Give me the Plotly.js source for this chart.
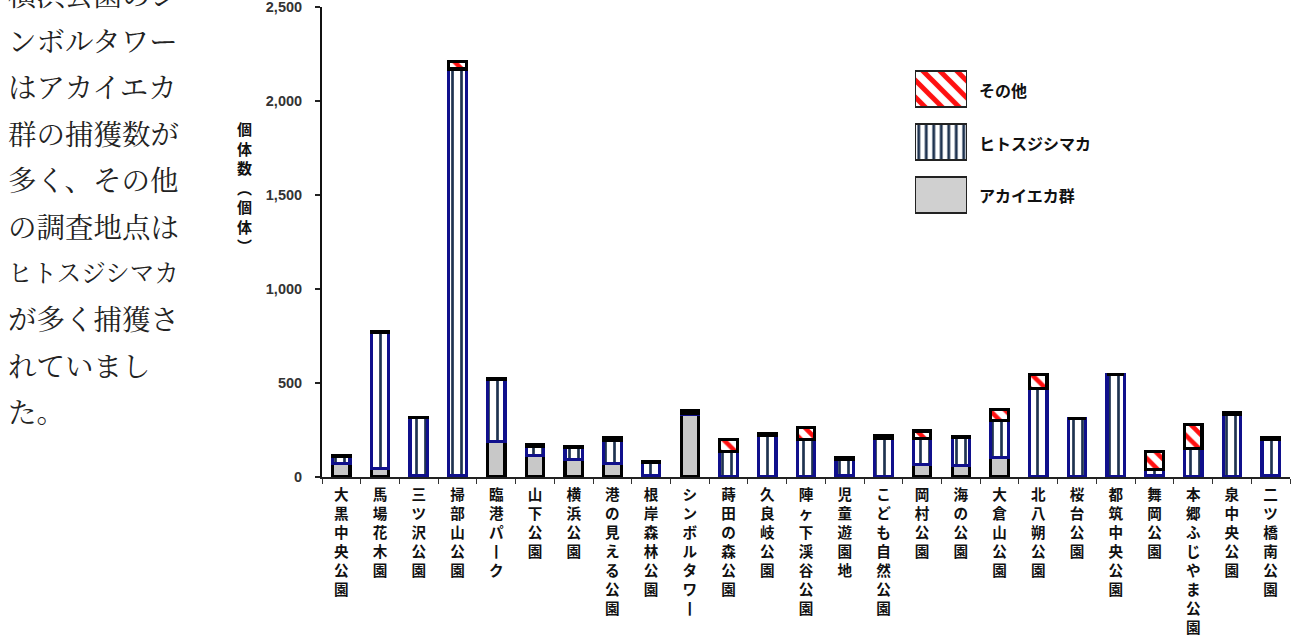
<!DOCTYPE html>
<html>
<head>
<meta charset="utf-8">
<script src="https://cdn.plot.ly/plotly-3.0.1.min.js"></script>
<style>
html,body{margin:0;padding:0;background:#fff;}
#chart{width:1297px;height:636px;}
</style>
</head>
<body>
<div id="chart"></div>
<script>
// ---- data ----
const sites = ["大黒中央公園","馬場花木園","三ツ沢公園","掃部山公園","臨港パーク","山下公園","横浜公園","港の見える公園","根岸森林公園","シンボルタワー","蒔田の森公園","久良岐公園","陣ヶ下渓谷公園","児童遊園地","こども自然公園","岡村公園","海の公園","大倉山公園","北八朔公園","桜台公園","都筑中央公園","舞岡公園","本郷ふじやま公園","泉中央公園","二ツ橋南公園"];
const akaieka = [70,45,10,10,190,115,95,70,5,335,0,0,0,5,0,65,60,105,0,0,0,5,0,0,10];
const hitosuji = [40,725,305,2160,330,50,65,125,72,5,135,220,200,90,205,140,150,195,470,312,545,35,150,335,190];
const sonota = [5,5,3,40,5,5,3,15,3,15,65,10,65,10,15,40,5,60,75,0,0,95,130,5,10];
const seriesNames = ["アカイエカ群","ヒトスジシマカ","その他"];
const yTicks = [0,500,1000,1500,2000,2500];
const yTitle = "個体数（個体）";
const sideText = ["横浜公園のシ","ンボルタワー","はアカイエカ","群の捕獲数が","多く、その他","の調査地点は","ヒトスジシマカ","が多く捕獲さ","れていまし","た。"];

// ---- layout helpers ----
const L = 322, R = 1290, T = 7, B = 477;
const W = R - L, H = B - T;
const px = x => (x - L) / W;
const py = y => (B - y) / H;

function vertical(s){
  return Array.from(s).map(c => c === "ー" ? "丨" : c).join("<br>");
}
const ticktext = sites.map(vertical);
const yTitleV = Array.from(yTitle).map(c => c === "（" ? "︵" : (c === "）" ? "︶" : c)).join("<br>");

const CJK = "Noto Sans CJK JP";
const blueLine = "#10108c";

const patOther = {shape:"\\", fgcolor:"#ff1010", bgcolor:"#ffffff", size:11, solidity:0.42};
const patHito = {shape:"|", fgcolor:"#1f3350", bgcolor:"#ffffff", size:9, solidity:0.3};

const traces = [
  {type:"bar", name:seriesNames[0], x:sites, y:akaieka,
   marker:{color:"#c8c8c8", line:{color:"#000", width:3.2}}, showlegend:false},
  {type:"bar", name:seriesNames[1], x:sites, y:hitosuji,
   marker:{color:"#fff", pattern:patHito, line:{color:blueLine, width:3.2}}, showlegend:false},
  {type:"bar", name:seriesNames[2], x:sites, y:sonota,
   marker:{color:"#fff", pattern:patOther, line:{color:"#000", width:3.2}}, showlegend:false}
];

// legend drawn as small horizontal bars on a hidden second subplot
const legendOrder = [seriesNames[0], seriesNames[1], seriesNames[2]]; // bottom -> top
const legendMarkers = [
  {color:"#d0d0d0", line:{color:"#222", width:2}},
  {color:"#fff", pattern:{shape:"|", fgcolor:"#1f3350", bgcolor:"#ffffff", size:7.5, solidity:0.38}, line:{color:"#222", width:2}},
  {color:"#fff", pattern:{shape:"\\", fgcolor:"#ff1010", bgcolor:"#ffffff", size:12, solidity:0.42}, line:{color:"#222", width:2}}
];
legendOrder.forEach((nm,i) => {
  traces.push({type:"bar", orientation:"h", x:[1], y:[nm], width:[0.68],
    xaxis:"x2", yaxis:"y2", marker:legendMarkers[i], showlegend:false, hoverinfo:"skip"});
});

const annotations = [];
// y-axis title (vertical)
annotations.push({xref:"paper", yref:"paper", x:px(244), y:py(187), xanchor:"center", yanchor:"middle",
  text:yTitleV, showarrow:false, font:{family:CJK, size:15, weight:"bold", color:"#111"}});
// legend labels
const legendY = {"その他":90, "ヒトスジシマカ":143, "アカイエカ群":195};
seriesNames.forEach(nm => {
  annotations.push({xref:"paper", yref:"paper", x:px(977), y:py(legendY[nm]), xanchor:"left", yanchor:"middle",
    text:nm, showarrow:false, font:{family:CJK, size:16, weight:"bold", color:"#111"}});
});
// side paragraph
sideText.forEach((t,i) => {
  const yc = -7 + i*46.4;
  const sz = (Array.from(t).length > 6) ? 24.5 : 28.5;
  annotations.push({xref:"paper", yref:"paper", x:px(6), y:py(yc), xanchor:"left", yanchor:"middle",
    text:t, showarrow:false, font:{family:"Noto Serif CJK JP, " + CJK, size:sz, color:"#222"}});
});

const layout = {
  width:1297, height:636,
  margin:{l:L, r:1297-R, t:T, b:636-B, pad:0},
  paper_bgcolor:"#fff", plot_bgcolor:"#fff",
  barmode:"stack", bargap:0.55,
  showlegend:false,
  font:{family:CJK, color:"#111"},
  xaxis:{type:"category", categoryorder:"array", categoryarray:sites,
    tickvals:sites, ticktext:ticktext, tickangle:0,
    tickson:"boundaries", ticks:"outside", ticklen:5, tickwidth:1, tickcolor:"#333",
    showline:true, linecolor:"#222", linewidth:1.5, showgrid:false, zeroline:false,
    automargin:false, range:[-0.5, sites.length-0.5], ticklabelstandoff:4,
    ticklabeloverflow:"allow",
    tickfont:{family:CJK, size:14.6, weight:"bold", color:"#111"}},
  yaxis:{range:[0,2500], tickvals:yTicks, tickformat:",d", ticks:"outside", ticklen:5, tickwidth:1.5,
    tickcolor:"#222", showline:true, linecolor:"#111", linewidth:2, showgrid:false, zeroline:false,
    automargin:false, ticklabelstandoff:10, ticklabeloverflow:"allow",
    tickfont:{family:"Liberation Sans", size:14.5, weight:"bold", color:"#333"}},
  xaxis2:{domain:[px(915), px(967)], anchor:"y2", range:[0,1], visible:false, fixedrange:true},
  yaxis2:{domain:[py(221.5), py(63)], anchor:"x2", type:"category", categoryorder:"array",
    categoryarray:legendOrder, range:[-0.5,2.5], visible:false, fixedrange:true},
  annotations:annotations
};

Plotly.newPlot("chart", traces, layout, {staticPlot:true, displayModeBar:false});
</script>
</body>
</html>
